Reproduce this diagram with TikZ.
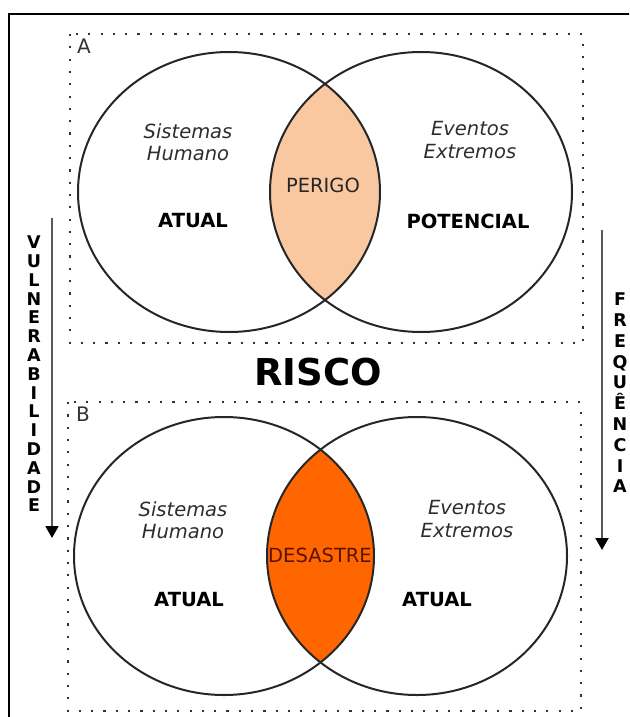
\documentclass[tikz,border=0pt]{standalone}
\usepackage{fontspec}
\setmainfont{DejaVu Sans}
\usetikzlibrary{arrows.meta, positioning}
\definecolor{perigofill}{RGB}{250, 200, 160}
\definecolor{desastrefill}{RGB}{255, 102, 0}
\definecolor{lensline}{RGB}{50, 30, 20}
\definecolor{softtext}{RGB}{45, 45, 45}
\definecolor{desastretext}{RGB}{90, 20, 0}

\begin{document}
\begin{tikzpicture}[x=1pt, y=-1pt,
  setline/.style={line width=2pt, draw=black!85},
  setbox/.style={draw=black!80, line width=2.2pt, dash pattern=on 2.2pt off 10.1pt},
  italabel/.style={font=\fontsize{19.5}{22.5}\selectfont\itshape, text=softtext, align=center, inner sep=0pt},
  boldlabel/.style={font=\fontsize{19.5}{20}\selectfont\bfseries, inner sep=0pt},
  lenslabel/.style={font=\fontsize{19.5}{20}\selectfont, inner sep=0pt},
  boxtag/.style={font=\fontsize{20}{21}\selectfont, text=black!80, inner sep=0pt},
  letterstack/.style={font=\fontsize{17.5}{18.8}\selectfont\bfseries, align=center, inner sep=0pt},
  axisarrow/.style={line width=2pt, draw=black!65, -{Triangle[width=13pt, length=12pt, black]}},
]
\useasboundingbox (0,0) rectangle (629,717);

% outer frame (runs off the page at right and bottom)
\begin{scope}
  \clip (0,0) rectangle (629,717);
  \draw[line width=2pt] (9,14) rectangle (640,730);
\end{scope}

% Box A
\draw[setbox] (70,34) rectangle (583,343);
\node[boxtag] (tagA) at (84,46) {A};

\begin{scope}
  \clip (229,192) ellipse [x radius=151, y radius=140];
  \fill[perigofill] (421,192) ellipse [x radius=151, y radius=140];
\end{scope}
\draw[setline] (229,192) ellipse [x radius=151, y radius=140];
\draw[setline] (421,192) ellipse [x radius=151, y radius=140];

\node[italabel] (humA) at (188,142) {Sistemas\\Humano};
\node[boldlabel] (atualA) at (193,221) {ATUAL};
\node[italabel] (eventA) at (470,140) {Eventos\\Extremos};
\node[boldlabel] (potencial) at (468,221) {POTENCIAL};
\node[lenslabel, text=black!85] (perigo) at (323,185) {PERIGO};

% title
\node[font=\fontsize{37}{40}\selectfont\bfseries, inner sep=0pt] (risco) at (318,372) {RISCO};

% Box B
\draw[setbox] (68,402) rectangle (581,711);
\node[boxtag] (tagB) at (83,414) {B};

\begin{scope}
  \clip (224,556) ellipse [x radius=150, y radius=139];
  \fill[desastrefill] (417,556) ellipse [x radius=150, y radius=139];
\end{scope}
\draw[setline] (224,556) ellipse [x radius=150, y radius=139];
\draw[setline] (417,556) ellipse [x radius=150, y radius=139];

\node[italabel] (humB) at (183,520) {Sistemas\\Humano};
\node[boldlabel] (atualB) at (189,600) {ATUAL};
\node[italabel] (eventB) at (467,519) {Eventos\\Extremos};
\node[boldlabel] (atualC) at (437,600) {ATUAL};
\node[lenslabel, text=desastretext] (desastre) at (320,555) {DESASTRE};

% side arrows
\coordinate (vtop) at (52,218);
\coordinate (vbot) at (52,538);
\draw[axisarrow] (vtop) -- (vbot);
\node[letterstack] (vuln) at (34,374)
  {V\\U\\L\\N\\E\\R\\A\\B\\I\\L\\I\\D\\A\\D\\E};

\coordinate (ftop) at (602,230);
\coordinate (fbot) at (602,550);
\draw[axisarrow] (ftop) -- (fbot);
\node[letterstack, font=\fontsize{17.5}{20.8}\selectfont\bfseries] (freq) at (620,393)
  {F\\R\\E\\Q\\U\\Ê\\N\\C\\I\\A};
\end{tikzpicture}
\end{document}
